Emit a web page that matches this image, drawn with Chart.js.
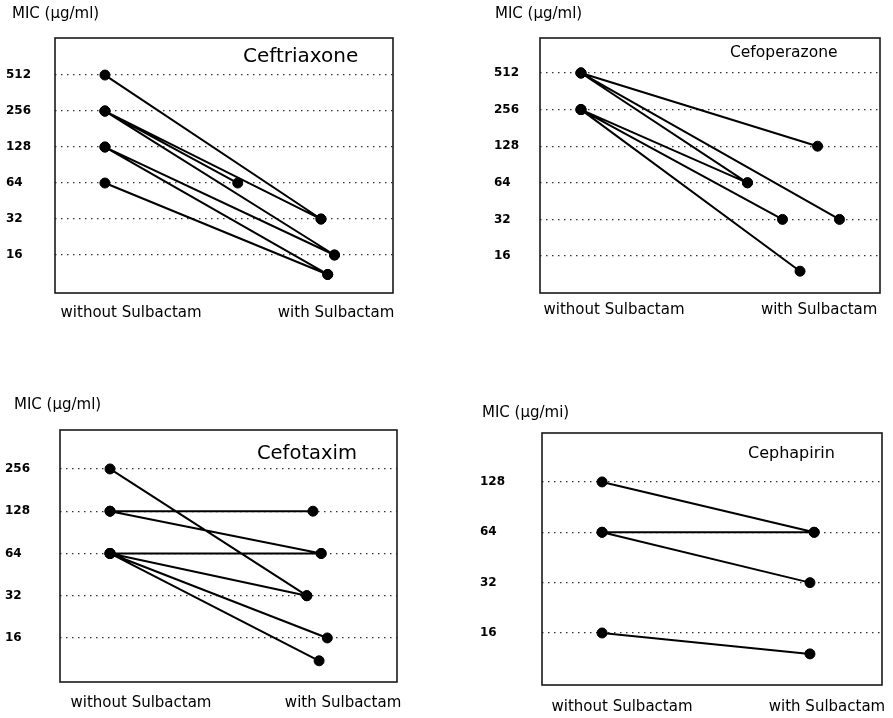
<!DOCTYPE html>
<html>
<head>
<meta charset="utf-8">
<script src="https://cdn.jsdelivr.net/npm/chart.js@4.4.1/dist/chart.umd.min.js"></script>
<style>
  html, body { margin: 0; padding: 0; background: #fff; }
  body { width: 893px; height: 718px; position: relative; overflow: hidden; }
  canvas { position: absolute; }
</style>
</head>
<body>
<canvas id="c1"></canvas>
<canvas id="c2"></canvas>
<canvas id="c3"></canvas>
<canvas id="c4"></canvas>
<script>
// MIC values, one entry per isolate: without -> with Sulbactam
// x of the "with" dot: 0 = without column, 1 = with column (points are a bit scattered in the figure)
const groupLabels = ['without Sulbactam', 'with Sulbactam'];

const ceftriaxoneBefore = [512, 256, 256, 256, 128, 128, 64];
const ceftriaxoneAfter  = [32, 64, 32, 16, 16, 11, 11];
const ceftriaxoneAfterX = [0.96, 0.59, 0.96, 1.02, 1.02, 0.99, 0.99];
const ceftriaxoneTicks  = [16, 32, 64, 128, 256, 512];

const cefoperazoneBefore = [512, 512, 512, 256, 256, 256];
const cefoperazoneAfter  = [128, 64, 32, 64, 32, 12];
const cefoperazoneAfterX = [1.08, 0.76, 1.18, 0.76, 0.92, 1.0];
const cefoperazoneTicks  = [16, 32, 64, 128, 256, 512];

const cefotaximBefore = [256, 128, 128, 64, 64, 64, 64];
const cefotaximAfter  = [32, 128, 64, 64, 32, 16, 11];
const cefotaximAfterX = [0.96, 0.99, 1.03, 1.03, 0.96, 1.06, 1.02];
const cefotaximTicks  = [16, 32, 64, 128, 256];

const cephapirinBefore = [128, 64, 64, 16];
const cephapirinAfter  = [64, 64, 32, 12];
const cephapirinAfterX = [1.01, 1.01, 0.99, 0.99];
const cephapirinTicks  = [16, 32, 64, 128];

const FONT = "'DejaVu Sans', 'Liberation Sans', sans-serif";

// box, title and text placement for the four panels (page pixels)
const panels = [
  { id: 'c1', name: 'Ceftriaxone', unit: 'MIC (\u00b5g/ml)',
    before: ceftriaxoneBefore, after: ceftriaxoneAfter, afterX: ceftriaxoneAfterX, ticks: ceftriaxoneTicks,
    canvas: { left: 0, top: 0, w: 446, h: 359 }, box: { L: 55, R: 393, T: 38, B: 293 },
    labelLeft: 6, yMin: 7.7, yMax: 1045, xMin: -0.222, xMax: 1.28, xTickPos: [0.116, 1.027], xLabelY: 313,
    unitPos: [12, 14], namePos: [243, 57], nameSize: 20 },
  { id: 'c2', name: 'Cefoperazone', unit: 'MIC (\u00b5g/ml)',
    before: cefoperazoneBefore, after: cefoperazoneAfter, afterX: cefoperazoneAfterX, ticks: cefoperazoneTicks,
    canvas: { left: 446, top: 0, w: 447, h: 359 }, box: { L: 540, R: 880, T: 38, B: 293 },
    labelLeft: 494, yMin: 7.94, yMax: 993, xMin: -0.187, xMax: 1.365, xTickPos: [0.151, 1.087], xLabelY: 310,
    unitPos: [495, 14], namePos: [730, 53], nameSize: 15.5 },
  { id: 'c3', name: 'Cefotaxim', unit: 'MIC (\u00b5g/ml)',
    before: cefotaximBefore, after: cefotaximAfter, afterX: cefotaximAfterX, ticks: cefotaximTicks,
    canvas: { left: 0, top: 359, w: 446, h: 359 }, box: { L: 60, R: 397, T: 430, B: 682 },
    labelLeft: 5, yMin: 7.77, yMax: 485, xMin: -0.244, xMax: 1.4, xTickPos: [0.151, 1.137], xLabelY: 703,
    unitPos: [14, 405], namePos: [257, 454], nameSize: 19.5 },
  { id: 'c4', name: 'Cephapirin', unit: 'MIC (\u00b5g/mi)',
    before: cephapirinBefore, after: cephapirinAfter, afterX: cephapirinAfterX, ticks: cephapirinTicks,
    canvas: { left: 446, top: 359, w: 447, h: 359 }, box: { L: 542, R: 882, T: 433, B: 685 },
    labelLeft: 480, yMin: 7.82, yMax: 251, xMin: -0.286, xMax: 1.333, xTickPos: [0.095, 1.071], xLabelY: 707,
    unitPos: [482, 413], namePos: [748, 454], nameSize: 16 }
];

// frame round the plot area + unit caption + drug name
const panelDecor = {
  id: 'panelDecor',
  afterDatasetsDraw(chart, args, opts) {
    const { ctx, chartArea: a } = chart;
    ctx.save();
    ctx.strokeStyle = '#1a1a1a';
    ctx.lineWidth = 1.6;
    ctx.strokeRect(a.left, a.top, a.right - a.left, a.bottom - a.top);
    ctx.fillStyle = '#000';
    ctx.textBaseline = 'middle';
    ctx.textAlign = 'left';
    ctx.font = '15px ' + FONT;
    ctx.fillText(opts.unit, opts.unitX, opts.unitY);
    ctx.font = opts.nameSize + 'px ' + FONT;
    ctx.fillText(opts.name, opts.nameX, opts.nameY);
    ctx.restore();
  }
};

const X_AXIS_H = 30;
const X_FONT = 15;

panels.forEach((p) => {
  const el = document.getElementById(p.id);
  el.width = p.canvas.w;
  el.height = p.canvas.h;
  el.style.left = p.canvas.left + 'px';
  el.style.top = p.canvas.top + 'px';

  // one line dataset, pairs broken by a null point
  const data = [];
  for (let i = 0; i < p.before.length; i++) {
    data.push({ x: 0, y: p.before[i] });
    data.push({ x: p.afterX[i], y: p.after[i] });
    data.push({ x: null, y: null });
  }

  new Chart(el, {
    type: 'line',
    data: {
      datasets: [{
        data: data,
        borderColor: '#000',
        borderWidth: 2,
        pointRadius: 5,
        pointBackgroundColor: '#000',
        pointBorderColor: '#000',
        pointBorderWidth: 1,
        spanGaps: false,
        tension: 0
      }]
    },
    options: {
      responsive: false,
      animation: false,
      events: [],
      layout: {
        padding: {
          left: p.labelLeft - p.canvas.left,
          top: p.box.T - p.canvas.top,
          right: p.canvas.left + p.canvas.w - p.box.R,
          bottom: p.canvas.top + p.canvas.h - p.box.B - X_AXIS_H
        }
      },
      plugins: {
        legend: { display: false },
        tooltip: { enabled: false },
        panelDecor: {
          unit: p.unit, unitX: p.unitPos[0] - p.canvas.left, unitY: p.unitPos[1] - p.canvas.top,
          name: p.name, nameX: p.namePos[0] - p.canvas.left, nameY: p.namePos[1] - p.canvas.top,
          nameSize: p.nameSize
        }
      },
      scales: {
        x: {
          type: 'linear',
          bounds: 'data',
          min: p.xMin,
          max: p.xMax,
          grid: { display: false, drawTicks: false },
          border: { display: false },
          afterBuildTicks: (scale) => { scale.ticks = p.xTickPos.map(v => ({ value: v })); },
          afterFit: (scale) => {
            scale.height = X_AXIS_H;
            // labels may hang past the frame; keep the frame where it is
            scale.paddingLeft = 0;
            scale.paddingRight = 0;
          },
          ticks: {
            autoSkip: false,
            maxRotation: 0,
            padding: p.xLabelY - p.box.B - X_FONT * 0.6,
            color: '#000',
            font: { family: FONT, size: X_FONT },
            callback: (v, i) => groupLabels[i]
          }
        },
        y: {
          type: 'logarithmic',
          bounds: 'data',
          min: p.yMin,
          max: p.yMax,
          grid: { color: '#333', lineWidth: 1.3, drawTicks: false },
          border: { display: false, dash: [1.5, 4.5] },
          afterBuildTicks: (scale) => { scale.ticks = p.ticks.map(v => ({ value: v })); },
          afterFit: (scale) => { scale.width = p.box.L - p.labelLeft; },
          ticks: {
            crossAlign: 'far',
            padding: 4,
            color: '#000',
            font: { family: FONT, size: 12, weight: 'bold' },
            callback: (v) => String(v)
          }
        }
      }
    },
    plugins: [panelDecor]
  });
});
</script>
</body>
</html>
